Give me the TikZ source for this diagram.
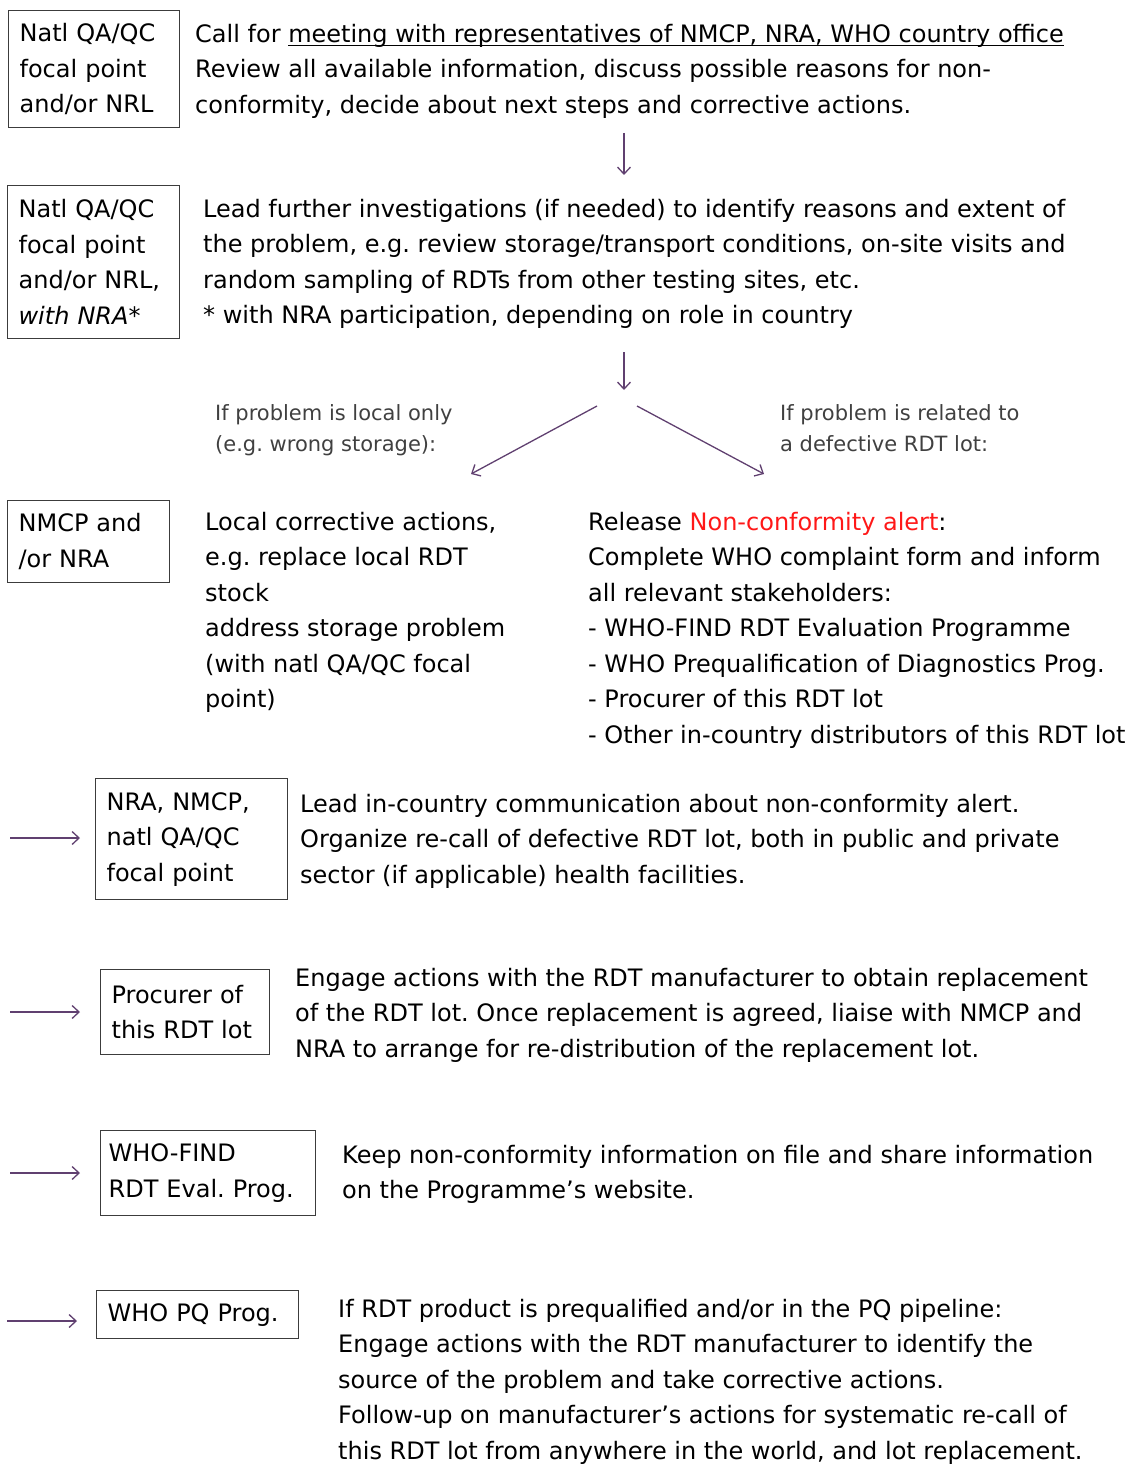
\documentclass[tikz,border=0pt]{standalone}
\usepackage{fontspec}
\setmainfont{DejaVu Sans}
\usetikzlibrary{arrows.meta}
\frenchspacing

\definecolor{flowpurple}{RGB}{96,64,112}
\definecolor{alertred}{RGB}{255,24,24}
\definecolor{condgray}{RGB}{64,64,64}
\definecolor{framegray}{RGB}{60,60,60}

\newsavebox{\ulbox}
\newcommand{\undermark}[1]{\sbox{\ulbox}{#1}\rlap{\rule[-3.5pt]{\wd\ulbox}{1.3pt}}\usebox{\ulbox}}

\begin{document}
\begin{tikzpicture}[
    x=1pt, y=-1pt,
    role/.style={draw=framegray, line width=1.2pt, anchor=north west, align=left,
        inner xsep=11pt, inner ysep=0pt, font=\fontsize{24}{35.5}\selectfont},
    task/.style={anchor=north west, align=left, inner sep=0pt,
        font=\fontsize{24}{35.5}\selectfont, execute at begin node=\strut},
    cond/.style={anchor=north west, align=left, inner sep=0pt, text=condgray,
        font=\fontsize{21}{31}\selectfont, execute at begin node=\strut},
    flow/.style={draw=flowpurple, line width=1.3pt, -{Straight Barb[length=7pt,width=13pt]}}
]
\useasboundingbox (0,0) rectangle (1133,1466);

% meeting
\node[role, text width=149pt, minimum height=117pt] (focal1) at (8,10)
    {Natl QA/QC\\focal point\\and/or NRL};
\node[task] (meet) at (195,24)
    {Call for \undermark{meeting with representatives of NMCP, NRA, WHO country office}\\
     Review all available information, discuss possible reasons for non-\\
     conformity, decide about next steps and corrective actions.};

% investigation
\node[role, text width=150pt, minimum height=153pt] (focal2) at (7,185)
    {Natl QA/QC\\focal point\\and/or NRL,\\\itshape with NRA*};
\node[task] (invest) at (203,199)
    {Lead further investigations (if needed) to identify reasons and extent of\\
     the problem, e.g. review storage/transport conditions, on-site visits and\\
     random sampling of RDTs from other testing sites, etc.\\
     * with NRA participation, depending on role in country};

\coordinate (d1a) at (624,133);
\coordinate (d1b) at (624,175);
\coordinate (d2a) at (624,352);
\coordinate (d2b) at (624,390);
\draw[flow] (d1a) -- (d1b);
\draw[flow] (d2a) -- (d2b);

% branches
\node[cond] (ifLocal) at (215,404)
    {If problem is local only\\(e.g. wrong storage):};
\node[cond] (ifLot) at (780,404)
    {If problem is related to\\a defective RDT lot:};

\coordinate (brL) at (597,406);
\coordinate (brR) at (637,406);
\coordinate (tipL) at (471,474);
\coordinate (tipR) at (764,474);
\draw[flow] (brL) -- (tipL);
\draw[flow] (brR) -- (tipR);

\node[role, text width=140pt, minimum height=82pt] (nmcp) at (7,500)
    {NMCP and\\/or NRA};
\node[task] (local) at (205,512)
    {Local corrective actions,\\
     e.g. replace local RDT\\
     stock\\
     address storage problem\\
     (with natl QA/QC focal\\
     point)};
\node[task] (alert) at (588,512)
    {Release {\color{alertred}Non-conformity alert}:\\
     Complete WHO complaint form and inform\\
     all relevant stakeholders:\\
     - WHO-FIND RDT Evaluation Programme\\
     - WHO Prequalification of Diagnostics Prog.\\
     - Procurer of this RDT lot\\
     - Other in-country distributors of this RDT lot};

% stakeholders
\node[role, text width=170pt, minimum height=121pt] (nra) at (95,778)
    {NRA, NMCP,\\natl QA/QC\\focal point};
\node[task] (recall) at (300,794)
    {Lead in-country communication about non-conformity alert.\\
     Organize re-call of defective RDT lot, both in public and private\\
     sector (if applicable) health facilities.};

\node[role, text width=147pt, minimum height=85pt] (procurer) at (100,969)
    {Procurer of\\this RDT lot};
\node[task] (replace) at (295,968)
    {Engage actions with the RDT manufacturer to obtain replacement\\
     of the RDT lot. Once replacement is agreed, liaise with NMCP and\\
     NRA to arrange for re-distribution of the replacement lot.};

\node[role, inner xsep=8pt, text width=199pt, minimum height=85pt] (find) at (100,1130)
    {WHO-FIND\\RDT Eval. Prog.};
\node[task] (keep) at (342,1145)
    {Keep non-conformity information on file and share information\\
     on the Programme's website.};

\node[role, text width=180pt, minimum height=48pt] (pq) at (96,1290)
    {WHO PQ Prog.};
\node[task] (pqact) at (338,1299)
    {If RDT product is prequalified and/or in the PQ pipeline:\\
     Engage actions with the RDT manufacturer to identify the\\
     source of the problem and take corrective actions.\\
     Follow-up on manufacturer's actions for systematic re-call of\\
     this RDT lot from anywhere in the world, and lot replacement.};

\coordinate (in4) at (10,838);
\coordinate (in5) at (10,1012);
\coordinate (in6) at (10,1173);
\coordinate (in7) at (7,1321);
\draw[flow, shorten >=15pt] (in4) -- (in4 -| nra.west);
\draw[flow, shorten >=20pt] (in5) -- (in5 -| procurer.west);
\draw[flow, shorten >=20pt] (in6) -- (in6 -| find.west);
\draw[flow, shorten >=19pt] (in7) -- (in7 -| pq.west);

\end{tikzpicture}
\end{document}
